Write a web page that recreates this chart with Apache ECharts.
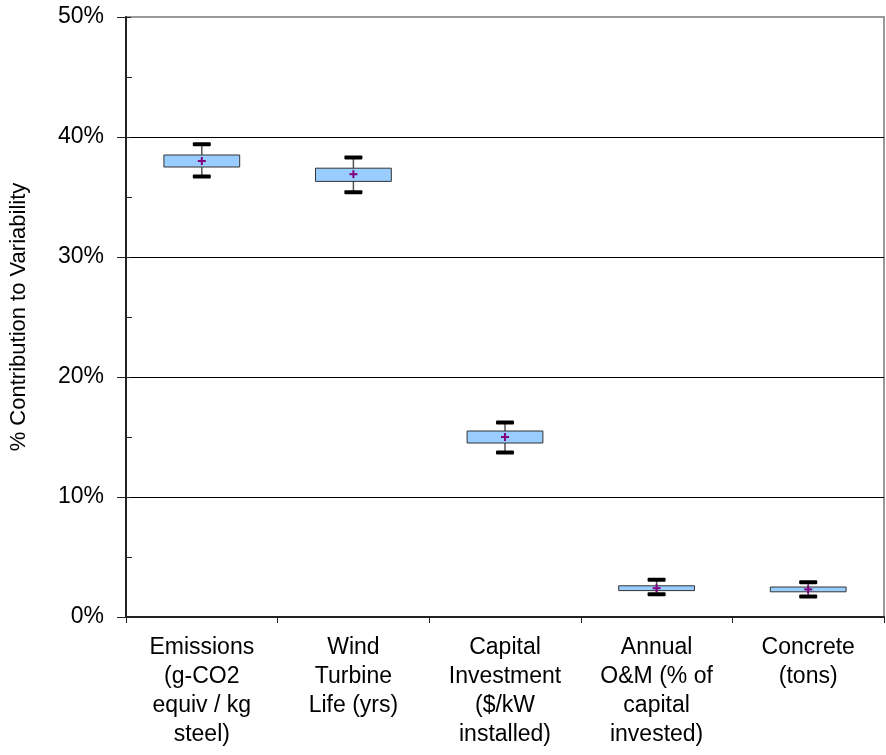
<!DOCTYPE html>
<html>
<head>
<meta charset="utf-8">
<script src="https://cdn.jsdelivr.net/npm/echarts@6/dist/echarts.min.js"></script>
<style>
  html, body { margin: 0; padding: 0; background: #fff; }
  #main { width: 886px; height: 755px; }
</style>
</head>
<body>
<div id="main"></div>
<script>
  // categories along the x axis
  var categories = [
    'Emissions\n(g-CO2\nequiv / kg\nsteel)',
    'Wind\nTurbine\nLife (yrs)',
    'Capital\nInvestment\n($/kW\ninstalled)',
    'Annual\nO&M (% of\ncapital\ninvested)',
    'Concrete\n(tons)'
  ];
  // % contribution to variability
  var whiskerLow  = [36.7, 35.4, 13.7, 1.9, 1.7];
  var boxLow      = [37.5, 36.3, 14.5, 2.2, 2.1];
  var boxHigh     = [38.5, 37.4, 15.5, 2.6, 2.5];
  var whiskerHigh = [39.4, 38.3, 16.2, 3.1, 2.9];
  var means       = [38.0, 36.9, 15.0, 2.4, 2.3];

  var FONT = 'Liberation Sans, Arial, sans-serif';

  var boxData = categories.map(function (c, i) {
    return [i, whiskerLow[i], boxLow[i], boxHigh[i], whiskerHigh[i], means[i]];
  });

  function renderBox(params, api) {
    var idx = api.value(0);
    var pLow = api.coord([idx, api.value(1)]);
    var pQ1 = api.coord([idx, api.value(2)]);
    var pQ3 = api.coord([idx, api.value(3)]);
    var pHigh = api.coord([idx, api.value(4)]);
    var pMean = api.coord([idx, api.value(5)]);
    var bandW = api.size([1, 0])[0];
    var boxW = bandW * 0.5;
    var capW = 18;
    var x = pQ1[0];
    return {
      type: 'group',
      children: [
        { type: 'line', shape: { x1: x, y1: pHigh[1], x2: x, y2: pLow[1] },
          style: { stroke: '#555', lineWidth: 1.5 } },
        { type: 'rect', shape: { x: x - capW / 2, y: pHigh[1] - 2, width: capW, height: 4, r: 1 },
          style: { fill: '#000' } },
        { type: 'rect', shape: { x: x - capW / 2, y: pLow[1] - 2, width: capW, height: 4, r: 1 },
          style: { fill: '#000' } },
        { type: 'rect', shape: { x: x - boxW / 2, y: pQ3[1], width: boxW, height: pQ1[1] - pQ3[1] },
          style: { fill: '#99ccff', stroke: '#333', lineWidth: 1 } },
        { type: 'line', shape: { x1: x - 4, y1: pMean[1], x2: x + 4, y2: pMean[1] },
          style: { stroke: '#800080', lineWidth: 2 } },
        { type: 'line', shape: { x1: x, y1: pMean[1] - 4, x2: x, y2: pMean[1] + 4 },
          style: { stroke: '#800080', lineWidth: 2 } }
      ]
    };
  }

  var chart = echarts.init(document.getElementById('main'));
  var option = {
    backgroundColor: '#fff',
    animation: false,
    grid: {
      left: 126, top: 17, right: 2, bottom: 138,
      show: true, borderColor: '#999', borderWidth: 2
    },
    xAxis: {
      type: 'category',
      data: categories,
      boundaryGap: true,
      axisLine: { show: true, lineStyle: { color: '#222', width: 2 } },
      axisTick: { show: true, length: 6, lineStyle: { color: '#222', width: 1 } },
      axisLabel: {
        color: '#000', fontFamily: FONT, fontSize: 23, lineHeight: 29,
        margin: 16, interval: 0
      },
      splitLine: { show: false }
    },
    yAxis: [{
      type: 'value',
      min: 0, max: 50, interval: 10,
      name: '% Contribution to Variability',
      nameLocation: 'middle',
      nameGap: 96,
      nameTextStyle: { color: '#000', fontFamily: FONT, fontSize: 22 },
      axisLine: { show: true, lineStyle: { color: '#222', width: 2 } },
      axisTick: { show: true, length: 9, lineStyle: { color: '#222', width: 1 } },
      axisLabel: {
        color: '#000', fontFamily: FONT, fontSize: 23, margin: 22,
        formatter: '{value}%'
      },
      splitLine: {
        show: true,
        lineStyle: { color: ['#000', '#000', '#000', '#000', '#000', '#999'], width: 1 }
      }
    }, {
      type: 'value',
      position: 'left',
      min: 0, max: 50, interval: 10,
      axisLine: { show: false },
      axisTick: { show: true, inside: true, length: 5, lineStyle: { color: '#222', width: 1 } },
      minorTick: { show: true, splitNumber: 2, length: 6, lineStyle: { color: '#222', width: 1 } },
      axisLabel: { show: false },
      splitLine: { show: false }
    }],
    series: [{
      type: 'custom',
      renderItem: renderBox,
      encode: { x: 0, y: [1, 2, 3, 4, 5] },
      data: boxData,
      z: 5
    }]
  };
  chart.setOption(option);
</script>
</body>
</html>
